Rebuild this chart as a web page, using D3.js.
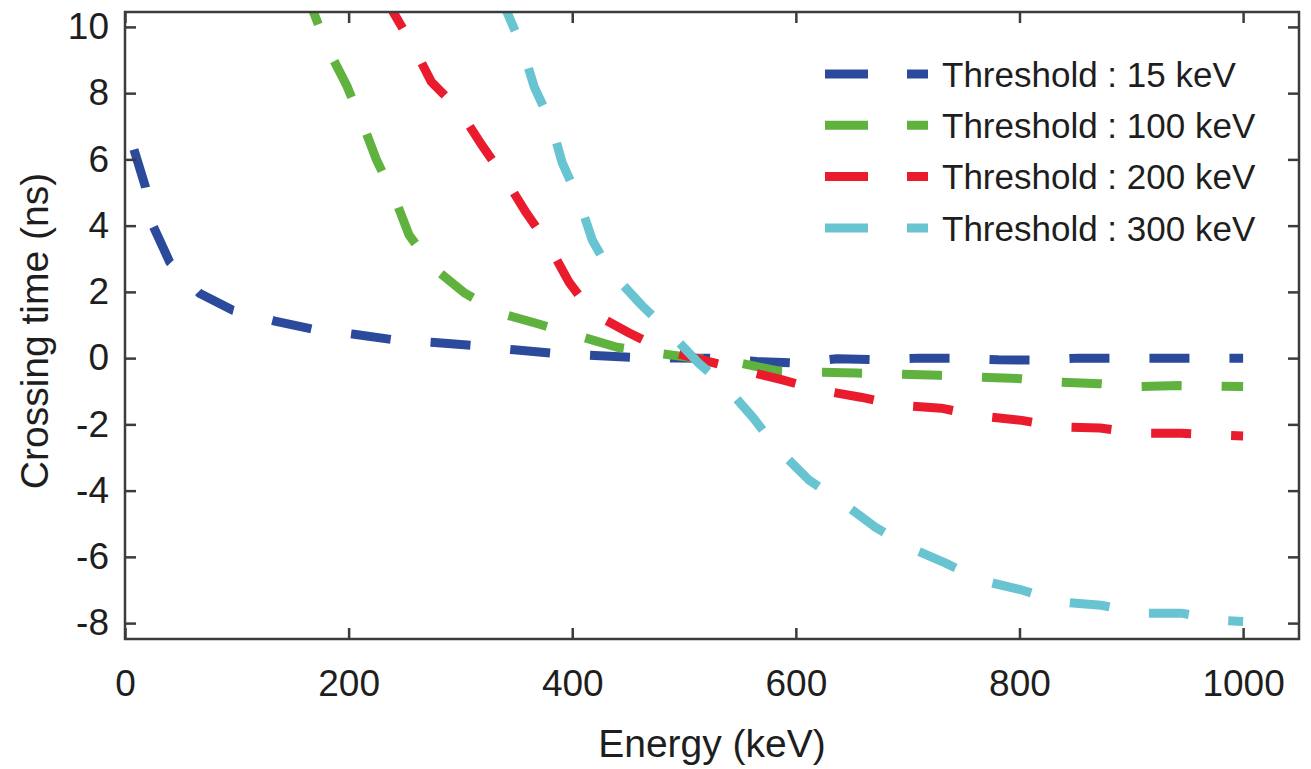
<!DOCTYPE html>
<html>
<head>
<meta charset="utf-8">
<script src="https://cdn.jsdelivr.net/npm/d3@7"></script>
<style>
  html, body { margin: 0; padding: 0; background: #ffffff; }
  svg { display: block; font-family: "Liberation Sans", Arial, Helvetica, sans-serif; }
</style>
</head>
<body>
<svg id="chart" width="1311" height="769"></svg>
<script>
// Crossing time versus deposited energy for four trigger thresholds.
const seriesNames = ["Threshold : 15 keV", "Threshold : 100 keV", "Threshold : 200 keV", "Threshold : 300 keV"];
const seriesColors = ["#2b4a9c", "#60b23e", "#ea1b2d", "#68c4d1"];

const energy15 = [8, 18, 25, 40, 67, 96, 134, 167, 205, 239, 277, 311, 348, 384, 420, 456, 490, 520, 565, 600, 637, 672, 710, 744, 781, 817, 853, 888, 926, 962, 1000];
const time15   = [6.3, 5.2, 4.0, 2.9, 1.95, 1.45, 1.12, 0.88, 0.72, 0.56, 0.47, 0.38, 0.25, 0.14, 0.08, 0.02, 0.0, 0.0, -0.1, -0.15, -0.02, -0.05, 0.0, 0.0, -0.05, -0.06, 0.0, 0.0, 0.0, 0.0, 0.0];

const energy100 = [160, 168, 181, 198, 212, 225, 241, 254, 275, 304, 335, 370, 404, 440, 475, 510, 547, 583, 618, 654, 690, 728, 762, 801, 837, 872, 906, 944, 980, 1000];
const time100   = [11.2, 10.5, 9.37, 8.25, 7.13, 5.98, 4.86, 3.72, 2.75, 1.96, 1.36, 1.03, 0.69, 0.33, 0.15, 0.0, -0.13, -0.38, -0.42, -0.45, -0.48, -0.52, -0.57, -0.62, -0.73, -0.77, -0.86, -0.83, -0.85, -0.86];

const energy200 = [230, 239, 257, 274, 299, 319, 339, 359, 379, 397, 418, 451, 482, 510, 552, 588, 622, 658, 692, 730, 765, 802, 837, 872, 909, 945, 980, 1000];
const time200   = [11.0, 10.5, 9.46, 8.34, 7.49, 6.44, 5.47, 4.38, 3.41, 2.3, 1.36, 0.76, 0.24, 0.0, -0.36, -0.66, -0.97, -1.18, -1.42, -1.51, -1.75, -1.88, -2.08, -2.11, -2.27, -2.27, -2.33, -2.35];

const energy300 = [335, 341, 355, 366, 381, 391, 406, 418, 433, 462, 485, 513, 538, 562, 583, 612, 641, 671, 703, 734, 766, 802, 838, 873, 908, 945, 980, 1000];
const time300   = [11.0, 10.5, 9.4, 8.19, 7.1, 5.9, 4.77, 3.56, 2.66, 1.6, 0.85, -0.15, -0.88, -1.81, -2.72, -3.69, -4.35, -5.1, -5.74, -6.19, -6.71, -7.0, -7.37, -7.46, -7.7, -7.7, -7.92, -7.95];

const xTicks = [0, 200, 400, 600, 800, 1000];
const yTicks = [-8, -6, -4, -2, 0, 2, 4, 6, 8, 10];

const xLabel = "Energy (keV)";
const yLabel = "Crossing time (ns)";

const energies = [energy15, energy100, energy200, energy300];
const times = [time15, time100, time200, time300];

const series = seriesNames.map((name, i) => ({
  name,
  color: seriesColors[i],
  points: energies[i].map((e, j) => ({ e, t: times[i][j] }))
}));

const svg = d3.select("#chart");
const plotLeft = 125, plotRight = 1299, plotTop = 12, plotBottom = 639;

const x = d3.scaleLinear().domain([0, 1050]).range([plotLeft, plotRight]);
const y = d3.scaleLinear().domain([-8.48, 10.45]).range([plotBottom, plotTop]);

const axisColor = "#3c3c3c";
const textColor = "#1e1e1e";
const tickLen = 11;
const plainNumber = d => String(d);

svg.append("defs").append("clipPath").attr("id", "plot-clip")
  .append("rect")
  .attr("x", plotLeft).attr("y", plotTop)
  .attr("width", plotRight - plotLeft).attr("height", plotBottom - plotTop);

// Curves
const line = d3.line()
  .x(d => x(d.e))
  .y(d => y(d.t))
  .curve(d3.curveLinear);

const curves = svg.append("g").attr("clip-path", "url(#plot-clip)");
curves.selectAll("path")
  .data(series)
  .join("path")
  .attr("d", d => line(d.points))
  .attr("fill", "none")
  .attr("stroke", d => d.color)
  .attr("stroke-width", 9)
  .attr("stroke-dasharray", "40,40")
  .attr("stroke-linecap", "butt")
  .attr("stroke-linejoin", "round");

// Axes with inward ticks on all four sides
function styleAxis(g) {
  g.select(".domain").remove();
  g.selectAll(".tick line").attr("stroke", axisColor).attr("stroke-width", 2.5);
  g.selectAll(".tick text")
    .attr("fill", textColor)
    .style("font-size", "37px");
}

svg.append("g")
  .attr("transform", `translate(0,${plotBottom})`)
  .call(d3.axisBottom(x).tickValues(xTicks).tickFormat(plainNumber)
    .tickSizeInner(-tickLen).tickSizeOuter(0).tickPadding(31))
  .call(styleAxis);

svg.append("g")
  .attr("transform", `translate(${plotLeft},0)`)
  .call(d3.axisLeft(y).tickValues(yTicks).tickFormat(plainNumber)
    .tickSizeInner(-tickLen).tickSizeOuter(0).tickPadding(16))
  .call(styleAxis);

svg.append("g")
  .attr("transform", `translate(0,${plotTop})`)
  .call(d3.axisTop(x).tickValues(xTicks).tickSizeInner(-tickLen).tickSizeOuter(0).tickFormat(""))
  .call(styleAxis);

svg.append("g")
  .attr("transform", `translate(${plotRight},0)`)
  .call(d3.axisRight(y).tickValues(yTicks).tickSizeInner(-tickLen).tickSizeOuter(0).tickFormat(""))
  .call(styleAxis);

// Frame
svg.append("rect")
  .attr("x", plotLeft).attr("y", plotTop)
  .attr("width", plotRight - plotLeft).attr("height", plotBottom - plotTop)
  .attr("fill", "none")
  .attr("stroke", axisColor)
  .attr("stroke-width", 2.5);

// Axis titles
svg.append("text")
  .attr("x", (plotLeft + plotRight) / 2)
  .attr("y", 757)
  .attr("text-anchor", "middle")
  .attr("fill", textColor)
  .style("font-size", "39px")
  .text(xLabel);

svg.append("text")
  .attr("transform", `translate(48,331) rotate(-90)`)
  .attr("text-anchor", "middle")
  .attr("fill", textColor)
  .style("font-size", "39px")
  .text(yLabel);

// Legend
const legend = svg.append("g");
const legendRows = legend.selectAll("g")
  .data(series)
  .join("g")
  .attr("transform", (d, i) => `translate(825,${74 + i * 51.3})`);

legendRows.append("line")
  .attr("x1", 0).attr("x2", 103)
  .attr("y1", 0).attr("y2", 0)
  .attr("stroke", d => d.color)
  .attr("stroke-width", 9)
  .attr("stroke-dasharray", "43,39");

legendRows.append("text")
  .attr("x", 117)
  .attr("y", 0)
  .attr("dy", "0.36em")
  .attr("fill", textColor)
  .style("font-size", "35px")
  .text(d => d.name);
</script>
</body>
</html>
